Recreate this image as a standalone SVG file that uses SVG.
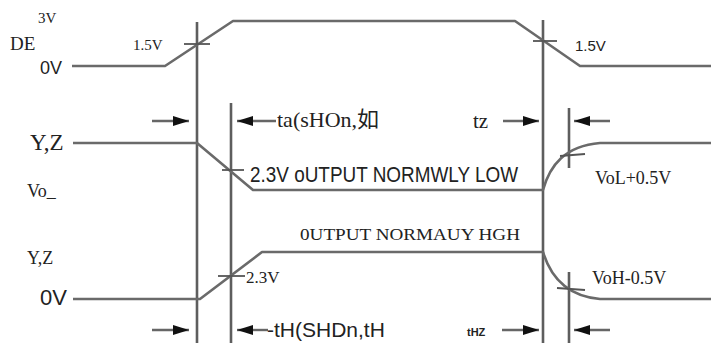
<svg xmlns="http://www.w3.org/2000/svg" width="711" height="345" viewBox="0 0 711 345">
<defs>
<style>
.w{fill:none;stroke:#6a6a6a;stroke-width:2.6;stroke-linejoin:round}
.v{stroke:#5e5e5e;stroke-width:2.6}
.t{stroke:#555;stroke-width:1.8}
.a{stroke:#666;stroke-width:2.4}
.s{font-family:"Liberation Serif",serif;fill:#222}
.n{font-family:"Liberation Sans",sans-serif;fill:#222}
</style>
<marker id="ah" viewBox="0 0 16 12" refX="16" refY="6" markerWidth="16" markerHeight="12" orient="auto" markerUnits="userSpaceOnUse">
<path d="M0,1 L16,6 L0,11 Z" fill="#111"/>
</marker>
</defs>
<rect width="711" height="345" fill="#fff"/>
<g id="connectors">
<line class="v" x1="197" y1="22" x2="197" y2="343"/>
<line class="v" x1="231" y1="103" x2="231" y2="343"/>
<line class="v" x1="543" y1="20" x2="543" y2="343"/>
<line class="v" x1="569" y1="108" x2="569" y2="168"/>
<line class="v" x1="569" y1="272" x2="569" y2="343"/>
<line class="a" x1="152" y1="121" x2="189" y2="121" marker-end="url(#ah)"/>
<line class="a" x1="276" y1="121" x2="237" y2="121" marker-end="url(#ah)"/>
<line class="a" x1="503" y1="121" x2="539" y2="121" marker-end="url(#ah)"/>
<line class="a" x1="610" y1="121" x2="574" y2="121" marker-end="url(#ah)"/>
<line class="a" x1="152" y1="330" x2="189" y2="330" marker-end="url(#ah)"/>
<line class="a" x1="268" y1="330" x2="237" y2="330" marker-end="url(#ah)"/>
<line class="a" x1="502" y1="330" x2="539" y2="330" marker-end="url(#ah)"/>
<line class="a" x1="610" y1="330" x2="574" y2="330" marker-end="url(#ah)"/>
</g>
<g id="de-signal">
<polyline class="w" points="72,66 165,66 233,21 515,21 580,66 711,66"/>
<line class="t" x1="184" y1="44" x2="210" y2="44"/>
<line class="t" x1="533" y1="41" x2="557" y2="41"/>
<text class="s" x="38" y="23" font-size="15">3V</text>
<text class="s" x="10" y="50" font-size="19">DE</text>
<text class="n" x="40" y="74" font-size="18">0V</text>
<text class="s" x="133" y="50" font-size="15">1.5V</text>
<text class="n" x="575" y="51" font-size="15">1.5V</text>
</g>
<g id="yz-low">
<path class="w" d="M73,143 L197,143 L253,190 L543,190 C550,165 565,146 600,143 L711,143"/>
<line class="t" x1="222" y1="170" x2="244" y2="170"/>
<line class="t" x1="560" y1="156" x2="585" y2="154"/>
<text class="s" x="30" y="150" font-size="23">Y,Z</text>
<text class="s" x="27" y="197" font-size="18">Vo_</text>
<text class="n" x="250" y="182" font-size="22" textLength="268" lengthAdjust="spacingAndGlyphs">2.3V oUTPUT NORMWLY LOW</text>
<text class="s" x="595" y="184" font-size="18">VoL+0.5V</text>
</g>
<g id="yz-high">
<path class="w" d="M73,299 L200,299 L262,252 L543,252 C550,275 565,296 600,299 L711,299"/>
<line class="t" x1="218" y1="276" x2="245" y2="276"/>
<line class="t" x1="557" y1="288" x2="585" y2="290"/>
<text class="s" x="27" y="264" font-size="18">Y,Z</text>
<text class="n" x="40" y="305" font-size="22">0V</text>
<text class="s" x="300" y="240" font-size="17" textLength="220" lengthAdjust="spacingAndGlyphs">0UTPUT NORMAUY HGH</text>
<text class="s" x="246" y="283" font-size="17">2.3V</text>
<text class="s" x="592" y="284" font-size="18">VoH-0.5V</text>
</g>
<g id="timing-labels">
<text class="s" x="277" y="127" font-size="22">ta(sHOn,<tspan font-family="'Noto Sans CJK SC',serif">如</tspan></text>
<text class="s" x="473" y="128" font-size="21">tz</text>
<text class="n" x="267" y="337" font-size="21">-tH(SHDn,tH</text>
<text class="n" x="467" y="336" font-size="11" font-weight="bold">tHZ</text>
</g>
</svg>
